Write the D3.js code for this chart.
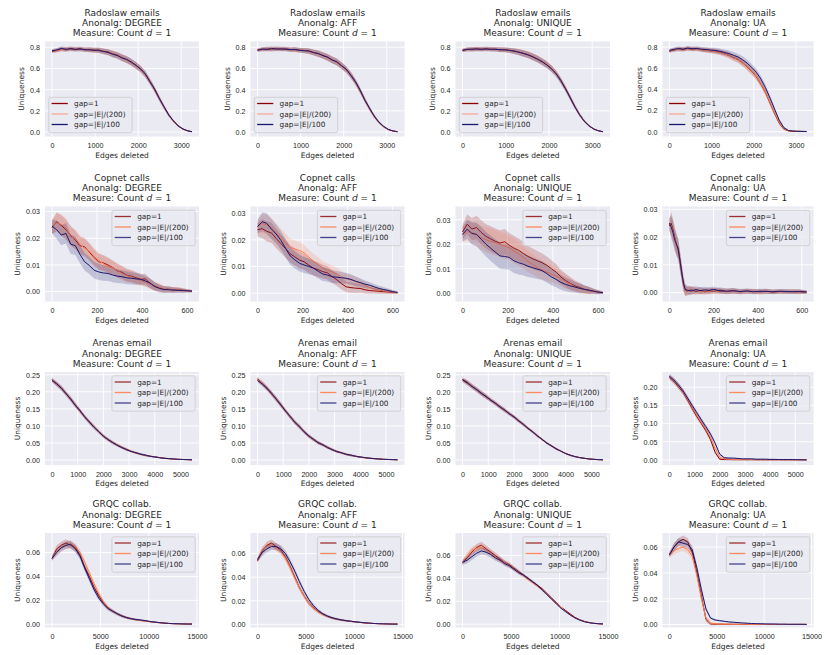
<!DOCTYPE html>
<html lang="en">
<head>
<meta charset="UTF-8">
<title>Uniqueness vs edges deleted</title>
<script src="https://cdn.jsdelivr.net/npm/d3@7"></script>
<style>
  body { margin: 0; background: #fff; }
  svg { display: block; font-family: "DejaVu Sans", sans-serif; }
  .tick text { fill: #262626; font-size: 7.2px; }
  .title { fill: #262626; font-size: 9px; text-anchor: middle; }
  .alabel { fill: #262626; font-size: 7.5px; text-anchor: middle; }
  .legend text { fill: #262626; font-size: 7.3px; }
</style>
</head>
<body>
<svg id="chart" width="826" height="655"></svg>
<script>
// ---- labels ----
const datasets = ["Radoslaw emails", "Copnet calls", "Arenas email", "GRQC collab."];
const algs = ["DEGREE", "AFF", "UNIQUE", "UA"];
const seriesLabels = ["gap=1", "gap=|E|/(200)", "gap=|E|/100"];
const seriesColors = ["#8b0000", "#ff7f50", "#191970"];

// ---- Radoslaw emails ----
const radoslawX = [0,108,217,325,433,542,650,758,867,975,1083,1192,1300,1408,1517,1625,1733,1842,1950,2058,2167,2275,2383,2492,2600,2708,2817,2925,3033,3142,3250];
const radoslawDegree1   = [0.760,0.772,0.783,0.776,0.790,0.781,0.787,0.776,0.780,0.771,0.776,0.760,0.757,0.738,0.726,0.702,0.684,0.655,0.632,0.592,0.545,0.478,0.402,0.318,0.236,0.165,0.104,0.062,0.031,0.013,0.003];
const radoslawDegree200 = [0.765,0.770,0.778,0.785,0.779,0.786,0.778,0.783,0.772,0.778,0.768,0.765,0.750,0.742,0.720,0.706,0.680,0.660,0.625,0.598,0.540,0.482,0.396,0.322,0.230,0.160,0.100,0.060,0.028,0.012,0.003];
const radoslawDegree100 = [0.768,0.775,0.790,0.782,0.786,0.780,0.784,0.779,0.776,0.774,0.770,0.762,0.752,0.735,0.722,0.700,0.686,0.662,0.628,0.596,0.548,0.474,0.405,0.315,0.240,0.162,0.106,0.058,0.030,0.012,0.003];
const radoslawAff1   = [0.775,0.780,0.785,0.778,0.790,0.782,0.786,0.780,0.778,0.773,0.770,0.764,0.752,0.740,0.724,0.706,0.682,0.660,0.628,0.590,0.538,0.468,0.390,0.305,0.222,0.150,0.092,0.052,0.024,0.010,0.003];
const radoslawAff200 = [0.780,0.776,0.788,0.782,0.784,0.787,0.780,0.778,0.776,0.770,0.772,0.760,0.755,0.736,0.728,0.700,0.686,0.655,0.632,0.585,0.542,0.472,0.384,0.310,0.218,0.146,0.090,0.050,0.025,0.010,0.003];
const radoslawAff100 = [0.772,0.784,0.780,0.790,0.783,0.785,0.782,0.777,0.780,0.772,0.768,0.766,0.750,0.742,0.722,0.708,0.680,0.664,0.626,0.594,0.536,0.476,0.396,0.300,0.226,0.152,0.094,0.054,0.026,0.011,0.003];
const radoslawUnique1   = [0.770,0.782,0.778,0.786,0.780,0.788,0.780,0.784,0.776,0.778,0.770,0.766,0.756,0.744,0.730,0.712,0.690,0.666,0.636,0.600,0.552,0.488,0.410,0.326,0.240,0.166,0.104,0.060,0.030,0.012,0.003];
const radoslawUnique200 = [0.775,0.779,0.785,0.780,0.786,0.782,0.786,0.778,0.780,0.772,0.774,0.762,0.758,0.740,0.732,0.708,0.694,0.660,0.640,0.596,0.556,0.482,0.414,0.320,0.244,0.160,0.108,0.058,0.032,0.011,0.003];
const radoslawUnique100 = [0.772,0.780,0.783,0.784,0.782,0.784,0.782,0.780,0.778,0.776,0.772,0.764,0.754,0.742,0.728,0.710,0.688,0.664,0.634,0.598,0.550,0.485,0.408,0.324,0.238,0.164,0.102,0.060,0.029,0.012,0.003];
const radoslawUa1   = [0.760,0.772,0.780,0.776,0.786,0.779,0.782,0.774,0.770,0.764,0.760,0.752,0.738,0.722,0.700,0.682,0.650,0.612,0.570,0.520,0.452,0.372,0.272,0.172,0.082,0.026,0.008,0.005,0.004,0.003,0.002];
const radoslawUa200 = [0.765,0.775,0.778,0.782,0.780,0.783,0.778,0.776,0.768,0.766,0.756,0.750,0.734,0.724,0.698,0.684,0.652,0.616,0.574,0.526,0.458,0.378,0.280,0.178,0.088,0.030,0.009,0.005,0.004,0.003,0.002];
const radoslawUa100 = [0.768,0.778,0.786,0.780,0.790,0.784,0.786,0.780,0.776,0.772,0.768,0.760,0.750,0.738,0.722,0.706,0.680,0.648,0.608,0.562,0.498,0.416,0.318,0.212,0.110,0.040,0.012,0.006,0.004,0.003,0.002];
const radoslawSpread   = [0.015,0.018,0.020,0.020,0.020,0.020,0.020,0.020,0.022,0.022,0.024,0.026,0.028,0.030,0.030,0.032,0.032,0.032,0.032,0.030,0.030,0.028,0.026,0.024,0.020,0.016,0.012,0.009,0.006,0.004,0.002];
const radoslawUaSpread = [0.015,0.018,0.020,0.020,0.020,0.020,0.020,0.020,0.022,0.022,0.024,0.025,0.026,0.028,0.030,0.030,0.032,0.032,0.032,0.032,0.030,0.028,0.026,0.022,0.016,0.010,0.005,0.003,0.002,0.002,0.002];

// ---- Copnet calls ----
const copnetX = [0,21,41,62,83,104,124,145,166,187,207,228,249,270,290,311,332,353,373,394,415,436,456,477,498,518,539,560,581,601,622];
const copnetUaX = [0,8,16,24,32,40,48,56,64,72,80,100,120,140,160,180,200,230,260,290,320,350,380,410,440,470,500,530,560,590,622];
const copnetDegree1   = [0.0240,0.0262,0.0248,0.0232,0.0210,0.0193,0.0172,0.0168,0.0148,0.0128,0.0112,0.0108,0.0100,0.0090,0.0078,0.0072,0.0062,0.0058,0.0052,0.0046,0.0048,0.0030,0.0019,0.0014,0.0008,0.0009,0.0006,0.0007,0.0005,0.0004,0.0002];
const copnetDegree200 = [0.0245,0.0258,0.0252,0.0238,0.0205,0.0198,0.0178,0.0162,0.0152,0.0132,0.0118,0.0104,0.0095,0.0088,0.0080,0.0068,0.0060,0.0055,0.0048,0.0042,0.0035,0.0028,0.0022,0.0016,0.0010,0.0009,0.0007,0.0008,0.0004,0.0003,0.0002];
const copnetDegree100 = [0.0245,0.0232,0.0212,0.0218,0.0178,0.0172,0.0140,0.0112,0.0098,0.0080,0.0074,0.0070,0.0068,0.0062,0.0058,0.0056,0.0052,0.0050,0.0048,0.0046,0.0040,0.0032,0.0020,0.0012,0.0008,0.0007,0.0006,0.0005,0.0004,0.0003,0.0002];
const copnetAff1   = [0.0238,0.0242,0.0232,0.0226,0.0205,0.0186,0.0168,0.0148,0.0136,0.0124,0.0118,0.0105,0.0094,0.0088,0.0081,0.0076,0.0062,0.0050,0.0036,0.0024,0.0021,0.0019,0.0018,0.0013,0.0010,0.0009,0.0007,0.0006,0.0005,0.0003,0.0002];
const copnetAff200 = [0.0248,0.0262,0.0256,0.0246,0.0225,0.0208,0.0190,0.0172,0.0166,0.0160,0.0152,0.0135,0.0120,0.0108,0.0094,0.0086,0.0080,0.0072,0.0062,0.0054,0.0050,0.0044,0.0038,0.0030,0.0022,0.0017,0.0012,0.0009,0.0006,0.0004,0.0002];
const copnetAff100 = [0.0250,0.0268,0.0262,0.0240,0.0222,0.0198,0.0170,0.0140,0.0125,0.0112,0.0106,0.0100,0.0094,0.0082,0.0072,0.0068,0.0062,0.0060,0.0058,0.0056,0.0052,0.0045,0.0040,0.0034,0.0030,0.0024,0.0018,0.0014,0.0010,0.0006,0.0003];
const copnetUnique1   = [0.0250,0.0282,0.0262,0.0268,0.0248,0.0232,0.0222,0.0212,0.0205,0.0210,0.0196,0.0184,0.0175,0.0162,0.0150,0.0140,0.0132,0.0124,0.0114,0.0100,0.0086,0.0066,0.0052,0.0040,0.0030,0.0024,0.0016,0.0012,0.0008,0.0005,0.0002];
const copnetUnique200 = [0.0240,0.0252,0.0248,0.0240,0.0226,0.0218,0.0212,0.0206,0.0198,0.0192,0.0186,0.0172,0.0160,0.0146,0.0130,0.0118,0.0104,0.0094,0.0086,0.0078,0.0070,0.0058,0.0046,0.0038,0.0026,0.0020,0.0014,0.0010,0.0007,0.0004,0.0002];
const copnetUnique100 = [0.0240,0.0262,0.0244,0.0240,0.0220,0.0200,0.0184,0.0168,0.0152,0.0150,0.0146,0.0132,0.0124,0.0118,0.0110,0.0104,0.0098,0.0092,0.0080,0.0066,0.0056,0.0044,0.0036,0.0030,0.0025,0.0020,0.0016,0.0012,0.0008,0.0004,0.0002];
const copnetUa1   = [0.0240,0.0250,0.0228,0.0200,0.0172,0.0160,0.0118,0.0075,0.0030,0.0008,0.0006,0.0010,0.0004,0.0008,0.0003,0.0007,0.0005,0.0009,0.0004,0.0006,0.0003,0.0005,0.0004,0.0003,0.0005,0.0002,0.0004,0.0003,0.0004,0.0003,0.0002];
const copnetUa200 = [0.0245,0.0242,0.0220,0.0195,0.0168,0.0150,0.0110,0.0068,0.0025,0.0006,0.0004,0.0007,0.0009,0.0003,0.0006,0.0004,0.0008,0.0003,0.0005,0.0006,0.0003,0.0004,0.0005,0.0002,0.0004,0.0003,0.0003,0.0004,0.0003,0.0002,0.0002];
const copnetUa100 = [0.0250,0.0236,0.0218,0.0190,0.0175,0.0155,0.0115,0.0070,0.0035,0.0012,0.0009,0.0006,0.0011,0.0007,0.0010,0.0008,0.0012,0.0006,0.0005,0.0007,0.0004,0.0006,0.0003,0.0005,0.0004,0.0003,0.0005,0.0004,0.0003,0.0004,0.0002];
const copnetSpread       = [0.0025,0.0035,0.0038,0.0038,0.0036,0.0035,0.0034,0.0033,0.0032,0.0031,0.0030,0.0029,0.0028,0.0027,0.0026,0.0025,0.0024,0.0023,0.0022,0.0020,0.0019,0.0018,0.0016,0.0014,0.0012,0.0011,0.0010,0.0009,0.0008,0.0006,0.0004];
const copnetUniqueSpread = [0.0030,0.0040,0.0045,0.0048,0.0050,0.0050,0.0052,0.0052,0.0052,0.0052,0.0050,0.0050,0.0048,0.0046,0.0044,0.0042,0.0040,0.0038,0.0036,0.0034,0.0032,0.0030,0.0028,0.0026,0.0022,0.0020,0.0016,0.0014,0.0010,0.0008,0.0005];
const copnetUaSpread     = [0.0020,0.0040,0.0040,0.0040,0.0038,0.0036,0.0034,0.0030,0.0026,0.0020,0.0016,0.0014,0.0012,0.0012,0.0011,0.0011,0.0010,0.0010,0.0010,0.0010,0.0009,0.0009,0.0009,0.0009,0.0009,0.0008,0.0008,0.0008,0.0008,0.0008,0.0006];

// ---- Arenas email ----
const arenasX = [0,182,363,545,727,908,1090,1272,1453,1635,1817,1998,2180,2362,2543,2725,2907,3088,3270,3452,3633,3815,3997,4178,4360,4542,4723,4905,5087,5268,5450];
const arenasDegree1   = [0.236,0.222,0.212,0.194,0.180,0.160,0.145,0.126,0.112,0.097,0.084,0.070,0.060,0.051,0.044,0.037,0.031,0.025,0.021,0.017,0.014,0.011,0.009,0.007,0.005,0.004,0.003,0.002,0.0015,0.001,0.0005];
const arenasDegree200 = [0.234,0.225,0.209,0.196,0.177,0.162,0.142,0.128,0.110,0.098,0.082,0.071,0.059,0.052,0.043,0.037,0.030,0.026,0.020,0.017,0.013,0.011,0.009,0.007,0.005,0.004,0.003,0.002,0.0015,0.001,0.0005];
const arenasDegree100 = [0.233,0.224,0.210,0.195,0.178,0.161,0.144,0.127,0.111,0.096,0.083,0.070,0.060,0.051,0.043,0.036,0.030,0.025,0.021,0.017,0.014,0.011,0.009,0.007,0.005,0.004,0.003,0.002,0.0015,0.001,0.0005];
const arenasAff1   = [0.238,0.224,0.210,0.196,0.178,0.163,0.143,0.128,0.110,0.099,0.082,0.069,0.061,0.050,0.045,0.036,0.031,0.024,0.021,0.016,0.014,0.011,0.008,0.007,0.005,0.004,0.003,0.002,0.0015,0.001,0.0005];
const arenasAff200 = [0.235,0.226,0.212,0.193,0.180,0.160,0.146,0.125,0.113,0.096,0.085,0.070,0.059,0.052,0.043,0.038,0.030,0.026,0.020,0.017,0.013,0.011,0.009,0.006,0.005,0.004,0.003,0.002,0.0015,0.001,0.0005];
const arenasAff100 = [0.233,0.223,0.211,0.195,0.179,0.161,0.144,0.127,0.111,0.097,0.083,0.071,0.060,0.051,0.044,0.037,0.030,0.025,0.021,0.017,0.014,0.011,0.009,0.007,0.005,0.004,0.003,0.002,0.0015,0.001,0.0005];
const arenasUnique1   = [0.236,0.228,0.216,0.207,0.195,0.187,0.175,0.167,0.155,0.147,0.135,0.127,0.114,0.105,0.092,0.083,0.070,0.061,0.049,0.042,0.032,0.026,0.019,0.014,0.010,0.007,0.005,0.003,0.002,0.001,0.0005];
const arenasUnique200 = [0.234,0.225,0.218,0.205,0.197,0.185,0.177,0.165,0.157,0.145,0.137,0.125,0.116,0.103,0.094,0.081,0.072,0.059,0.051,0.040,0.034,0.025,0.020,0.013,0.010,0.007,0.005,0.003,0.002,0.001,0.0005];
const arenasUnique100 = [0.235,0.226,0.216,0.206,0.196,0.186,0.176,0.166,0.156,0.146,0.136,0.126,0.115,0.104,0.093,0.082,0.071,0.060,0.050,0.041,0.033,0.026,0.019,0.014,0.010,0.007,0.005,0.003,0.002,0.001,0.0005];
const arenasUa1   = [0.228,0.216,0.201,0.186,0.164,0.141,0.119,0.100,0.080,0.056,0.021,0.002,0.001,0.0008,0.0006,0.0005,0.0006,0.0004,0.0005,0.0003,0.0004,0.0003,0.0003,0.0002,0.0003,0.0002,0.0002,0.0002,0.0001,0.0001,0.0001];
const arenasUa200 = [0.229,0.218,0.204,0.188,0.167,0.145,0.124,0.104,0.085,0.062,0.032,0.008,0.003,0.002,0.0015,0.0012,0.001,0.001,0.0008,0.0007,0.0006,0.0005,0.0005,0.0004,0.0004,0.0003,0.0003,0.0002,0.0002,0.0001,0.0001];
const arenasUa100 = [0.230,0.220,0.206,0.190,0.170,0.150,0.130,0.110,0.091,0.071,0.046,0.016,0.006,0.005,0.005,0.004,0.003,0.003,0.003,0.002,0.002,0.002,0.0015,0.0015,0.001,0.001,0.001,0.0008,0.0006,0.0004,0.0002];
const arenasSpread   = [0.006,0.007,0.007,0.007,0.007,0.007,0.006,0.006,0.006,0.006,0.005,0.005,0.005,0.005,0.004,0.004,0.004,0.003,0.003,0.003,0.003,0.002,0.002,0.002,0.002,0.0015,0.0015,0.001,0.001,0.001,0.0008];
const arenasUaSpread = [0.007,0.007,0.007,0.007,0.007,0.007,0.006,0.006,0.006,0.006,0.005,0.003,0.002,0.002,0.0015,0.0015,0.0015,0.001,0.001,0.001,0.001,0.001,0.001,0.0008,0.0008,0.0008,0.0008,0.0006,0.0006,0.0005,0.0005];

// ---- GRQC collab. ----
const grqcX = [0,483,965,1448,1931,2413,2896,3379,3861,4344,4827,5309,5792,6275,6757,7240,7723,8205,8688,9171,9653,10136,10619,11101,11584,12067,12549,13032,13515,13997,14480];
const grqcDegree1   = [0.055,0.063,0.066,0.068,0.066,0.064,0.058,0.048,0.040,0.031,0.024,0.018,0.0135,0.0108,0.0086,0.0070,0.0055,0.0046,0.0038,0.0032,0.0028,0.0022,0.0018,0.0013,0.0010,0.0007,0.0005,0.0004,0.0003,0.0002,0.0002];
const grqcDegree200 = [0.055,0.061,0.064,0.066,0.067,0.065,0.060,0.052,0.043,0.034,0.026,0.019,0.0140,0.0110,0.0085,0.0068,0.0054,0.0045,0.0037,0.0031,0.0026,0.0021,0.0017,0.0013,0.0010,0.0007,0.0005,0.0004,0.0003,0.0002,0.0002];
const grqcDegree100 = [0.055,0.060,0.064,0.066,0.067,0.063,0.057,0.047,0.038,0.029,0.022,0.017,0.0132,0.0110,0.0088,0.0068,0.0056,0.0046,0.0040,0.0036,0.0030,0.0023,0.0018,0.0014,0.0010,0.0007,0.0005,0.0004,0.0003,0.0002,0.0002];
const grqcAff1   = [0.054,0.062,0.067,0.069,0.066,0.063,0.057,0.049,0.040,0.031,0.024,0.018,0.0140,0.0108,0.0085,0.0066,0.0054,0.0044,0.0036,0.0030,0.0025,0.0020,0.0016,0.0012,0.0009,0.0007,0.0005,0.0004,0.0003,0.0002,0.0002];
const grqcAff200 = [0.055,0.063,0.066,0.067,0.065,0.062,0.056,0.048,0.039,0.031,0.024,0.018,0.0136,0.0104,0.0082,0.0066,0.0052,0.0043,0.0036,0.0030,0.0025,0.0020,0.0016,0.0012,0.0009,0.0007,0.0005,0.0004,0.0003,0.0002,0.0002];
const grqcAff100 = [0.055,0.061,0.064,0.066,0.066,0.064,0.060,0.053,0.045,0.036,0.028,0.021,0.0158,0.0118,0.0090,0.0070,0.0055,0.0045,0.0037,0.0031,0.0026,0.0021,0.0017,0.0013,0.0010,0.0007,0.0005,0.0004,0.0003,0.0002,0.0002];
const grqcUnique1   = [0.054,0.058,0.063,0.067,0.069,0.066,0.063,0.060,0.057,0.054,0.052,0.049,0.046,0.043,0.040,0.037,0.034,0.031,0.027,0.023,0.019,0.015,0.012,0.009,0.006,0.004,0.0025,0.0015,0.0008,0.0004,0.0002];
const grqcUnique200 = [0.054,0.060,0.065,0.066,0.067,0.065,0.062,0.059,0.056,0.054,0.051,0.048,0.045,0.042,0.039,0.036,0.033,0.030,0.026,0.022,0.018,0.015,0.011,0.008,0.0055,0.0037,0.0023,0.0014,0.0008,0.0004,0.0002];
const grqcUnique100 = [0.054,0.056,0.059,0.062,0.064,0.063,0.061,0.058,0.056,0.053,0.051,0.048,0.045,0.043,0.040,0.037,0.034,0.030,0.026,0.022,0.018,0.014,0.011,0.008,0.0055,0.0036,0.0022,0.0013,0.0007,0.0004,0.0002];
const grqcUa1   = [0.054,0.060,0.064,0.066,0.064,0.056,0.040,0.022,0.004,0.0005,0.0003,0.0003,0.0002,0.0002,0.0002,0.0002,0.0001,0.0001,0.0001,0.0001,0.0001,0.0001,0.0001,0.0001,0.0001,0.0001,0.0001,0.0001,0.0001,0.0001,0.0001];
const grqcUa200 = [0.054,0.057,0.059,0.060,0.058,0.053,0.038,0.020,0.005,0.001,0.0006,0.0004,0.0003,0.0003,0.0002,0.0002,0.0002,0.0002,0.0001,0.0001,0.0001,0.0001,0.0001,0.0001,0.0001,0.0001,0.0001,0.0001,0.0001,0.0001,0.0001];
const grqcUa100 = [0.054,0.060,0.064,0.063,0.062,0.058,0.044,0.027,0.012,0.005,0.0035,0.003,0.0025,0.002,0.0018,0.0015,0.0012,0.001,0.0008,0.0007,0.0006,0.0005,0.0004,0.0004,0.0003,0.0003,0.0002,0.0002,0.0002,0.0002,0.0001];
const grqcSpread   = [0.002,0.003,0.003,0.003,0.003,0.003,0.0028,0.0026,0.0024,0.0022,0.002,0.0018,0.0016,0.0014,0.0012,0.0011,0.001,0.0009,0.0008,0.0007,0.0006,0.0005,0.0005,0.0004,0.0004,0.0003,0.0003,0.0002,0.0002,0.0002,0.0002];
const grqcUaSpread = [0.002,0.003,0.003,0.003,0.003,0.003,0.003,0.003,0.002,0.001,0.0008,0.0006,0.0005,0.0004,0.0004,0.0003,0.0003,0.0003,0.0002,0.0002,0.0002,0.0002,0.0002,0.0002,0.0002,0.0002,0.0002,0.0002,0.0002,0.0002,0.0002];

// ---- ticks ----
const radoslawYTicks = [0, 0.2, 0.4, 0.6, 0.8];
const copnetYTicks = [0, 0.01, 0.02, 0.03];
const arenasYTicks = [0, 0.05, 0.1, 0.15, 0.2, 0.25];
const grqcYTicks = [0, 0.02, 0.04, 0.06];
const radoslawXTicks = [0, 1000, 2000, 3000];
const copnetXTicks = [0, 200, 400, 600];
const arenasXTicks = [0, 1000, 2000, 3000, 4000, 5000];
const grqcXTicks = [0, 5000, 10000, 15000];

// ---- layout ----
const colLeft = [45, 250.5, 455.5, 662.5];
const colRight = [199, 404.5, 610, 813.5];
const rowTop = [41.5, 206.5, 372, 533];
const rowBottom = [136.5, 301.5, 465, 627.5];

const rows = [
  { x: [radoslawX, radoslawX, radoslawX, radoslawX],
    series: [[radoslawDegree1, radoslawDegree200, radoslawDegree100],
             [radoslawAff1, radoslawAff200, radoslawAff100],
             [radoslawUnique1, radoslawUnique200, radoslawUnique100],
             [radoslawUa1, radoslawUa200, radoslawUa100]],
    spreads: [radoslawSpread, radoslawSpread, radoslawSpread, radoslawUaSpread],
    yDomains: [[-0.042, 0.855], [-0.042, 0.855], [-0.042, 0.855], [-0.045, 0.852]],
    yTicks: radoslawYTicks, xTicks: radoslawXTicks, fmt: ".1f", legend: "lower left" },
  { x: [copnetX, copnetX, copnetX, copnetUaX],
    series: [[copnetDegree1, copnetDegree200, copnetDegree100],
             [copnetAff1, copnetAff200, copnetAff100],
             [copnetUnique1, copnetUnique200, copnetUnique100],
             [copnetUa1, copnetUa200, copnetUa100]],
    spreads: [copnetSpread, copnetSpread, copnetUniqueSpread, copnetUaSpread],
    yDomains: [[-0.0037, 0.0319], [-0.0031, 0.0325], [-0.0034, 0.0354], [-0.0032, 0.031]],
    yTicks: copnetYTicks, xTicks: copnetXTicks, fmt: ".2f", legend: "upper right" },
  { x: [arenasX, arenasX, arenasX, arenasX],
    series: [[arenasDegree1, arenasDegree200, arenasDegree100],
             [arenasAff1, arenasAff200, arenasAff100],
             [arenasUnique1, arenasUnique200, arenasUnique100],
             [arenasUa1, arenasUa200, arenasUa100]],
    spreads: [arenasSpread, arenasSpread, arenasSpread, arenasUaSpread],
    yDomains: [[-0.0147, 0.258], [-0.0147, 0.258], [-0.0147, 0.258], [-0.014, 0.242]],
    yTicks: arenasYTicks, xTicks: arenasXTicks, fmt: ".2f", legend: "upper right" },
  { x: [grqcX, grqcX, grqcX, grqcX],
    series: [[grqcDegree1, grqcDegree200, grqcDegree100],
             [grqcAff1, grqcAff200, grqcAff100],
             [grqcUnique1, grqcUnique200, grqcUnique100],
             [grqcUa1, grqcUa200, grqcUa100]],
    spreads: [grqcSpread, grqcSpread, grqcSpread, grqcUaSpread],
    yDomains: [[-0.0027, 0.0763], [-0.0027, 0.0775], [-0.0029, 0.0797], [-0.0023, 0.0709]],
    yTicks: grqcYTicks, xTicks: grqcXTicks, fmt: ".2f", legend: "upper right" }
];

const svg = d3.select("#chart");
const defs = svg.append("defs");

rows.forEach((row, r) => {
  algs.forEach((alg, c) => {
    const left = colLeft[c], right = colRight[c], top = rowTop[r], bottom = rowBottom[r];
    const w = right - left, h = bottom - top;
    const xs = row.x[c];
    const xmax = d3.max(xs);

    const x = d3.scaleLinear().domain([-0.05 * xmax, 1.05 * xmax]).range([0, w]);
    const y = d3.scaleLinear().domain(row.yDomains[c]).range([h, 0]);

    const g = svg.append("g").attr("transform", `translate(${left},${top})`);
    const clipId = `clip-${r}-${c}`;
    defs.append("clipPath").attr("id", clipId)
      .append("rect").attr("width", w).attr("height", h);

    g.append("rect").attr("width", w).attr("height", h).attr("fill", "#eaeaf2");

    const yt = row.yTicks.filter(t => t >= y.domain()[0] && t <= y.domain()[1]);
    const xt = row.xTicks.filter(t => t >= x.domain()[0] && t <= x.domain()[1]);

    // grid
    g.append("g").selectAll("line").data(yt).join("line")
      .attr("x1", 0).attr("x2", w).attr("y1", d => y(d)).attr("y2", d => y(d))
      .attr("stroke", "#fff").attr("stroke-width", 0.9);
    g.append("g").selectAll("line").data(xt).join("line")
      .attr("y1", 0).attr("y2", h).attr("x1", d => x(d)).attr("x2", d => x(d))
      .attr("stroke", "#fff").attr("stroke-width", 0.9);

    // series: band then line
    const plot = g.append("g").attr("clip-path", `url(#${clipId})`);
    const spread = row.spreads[c];
    row.series[c].forEach((vals, s) => {
      const pts = xs.map((xv, i) => ({ x: xv, y: vals[i], e: spread[i] }));
      plot.append("path").datum(pts)
        .attr("fill", seriesColors[s]).attr("fill-opacity", 0.2)
        .attr("d", d3.area().x(d => x(d.x)).y0(d => y(d.y - d.e)).y1(d => y(d.y + d.e)));
      plot.append("path").datum(pts)
        .attr("fill", "none").attr("stroke", seriesColors[s]).attr("stroke-width", 1)
        .attr("stroke-linejoin", "round")
        .attr("d", d3.line().x(d => x(d.x)).y(d => y(d.y)));
    });

    // axes
    const ya = g.append("g")
      .call(d3.axisLeft(y).tickValues(yt).tickSize(0).tickPadding(5).tickFormat(d3.format(row.fmt)));
    ya.select(".domain").remove();
    ya.selectAll("text").attr("font-family", null).attr("font-size", null);
    const xa = g.append("g").attr("transform", `translate(0,${h})`)
      .call(d3.axisBottom(x).tickValues(xt).tickSize(0).tickPadding(6.8).tickFormat(d3.format("d")));
    xa.select(".domain").remove();
    xa.selectAll("text").attr("font-family", null).attr("font-size", null);

    const yb = ya.node().getBBox();
    g.append("text").attr("class", "alabel")
      .attr("transform", `translate(${yb.x - 6},${h / 2}) rotate(-90)`)
      .text("Uniqueness");
    g.append("text").attr("class", "alabel")
      .attr("x", w / 2).attr("y", h + 21)
      .text("Edges deleted");

    // title
    g.append("text").attr("class", "title").attr("x", w / 2).attr("y", -25.8).text(datasets[r]);
    g.append("text").attr("class", "title").attr("x", w / 2).attr("y", -15.3).text(`Anonalg: ${alg}`);
    const t3 = g.append("text").attr("class", "title").attr("x", w / 2).attr("y", -5.5);
    t3.append("tspan").text("Measure: Count ");
    t3.append("tspan").attr("font-style", "italic").text("d");
    t3.append("tspan").text(" = 1");

    // legend
    const lw = 83.3, lh = 35.4;
    const lx = row.legend === "lower left" ? 3.8 : w - 3.8 - lw;
    const ly = row.legend === "lower left" ? h - 3.8 - lh : 3.8;
    const lg = g.append("g").attr("class", "legend").attr("transform", `translate(${lx},${ly})`);
    lg.append("rect").attr("width", lw).attr("height", lh).attr("rx", 2)
      .attr("fill", "#eaeaf2").attr("fill-opacity", 0.8)
      .attr("stroke", "#cccccc").attr("stroke-width", 0.8);
    const handleOpacity = r === 0 ? [1, 0.6, 1] : [0.8, 0.9, 0.8];
    seriesLabels.forEach((lab, s) => {
      const cy = 6.2 + s * 10.5;
      lg.append("line").attr("x1", 2.8).attr("x2", 19).attr("y1", cy).attr("y2", cy)
        .attr("stroke", seriesColors[s]).attr("stroke-opacity", handleOpacity[s]).attr("stroke-width", 1.3);
      lg.append("text").attr("x", 25.3).attr("y", cy + 2.6).text(lab);
    });
  });
});
</script>
</body>
</html>
